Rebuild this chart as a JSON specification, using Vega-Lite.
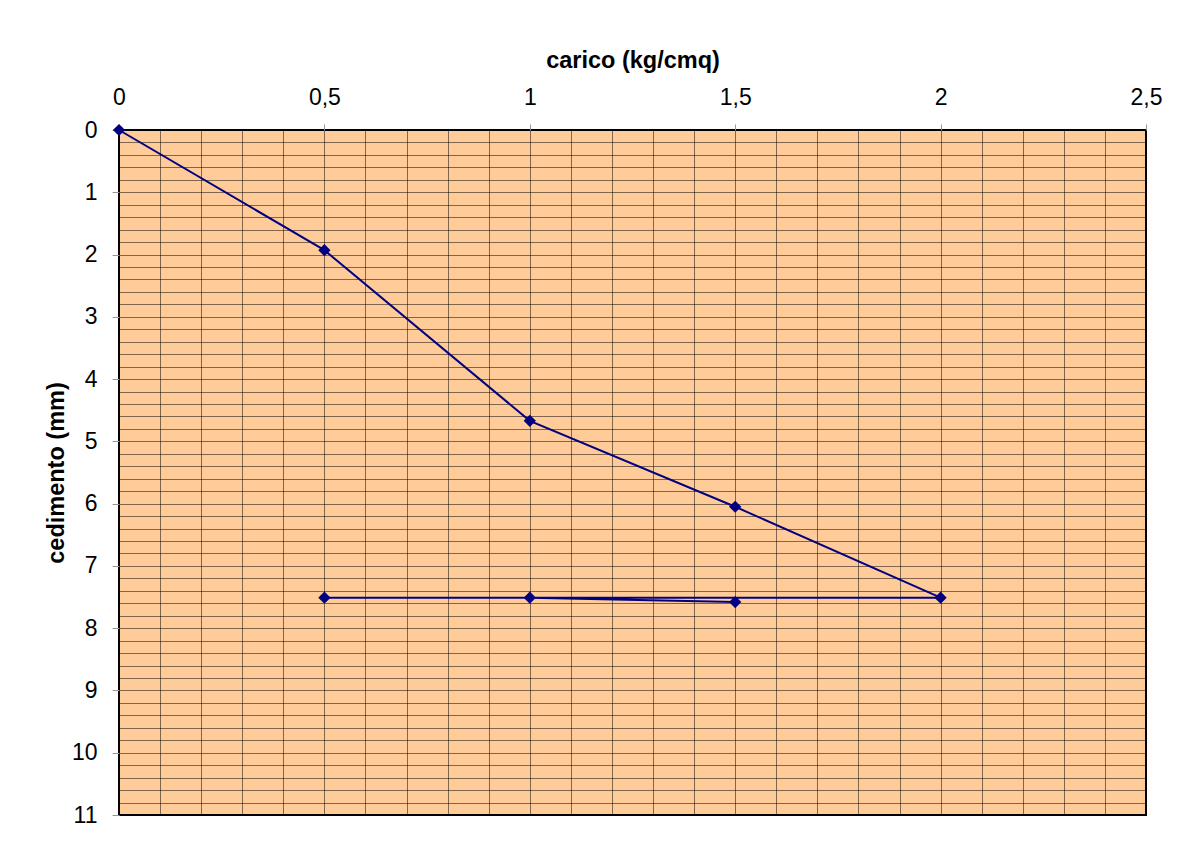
{
  "$schema": "https://vega.github.io/schema/vega-lite/v6.json",
  "width": 1027,
  "height": 685,
  "autosize": {"type": "none"},
  "padding": {"left": 119, "top": 130, "right": 39, "bottom": 40},
  "background": "white",
  "config": {
    "view": {"fill": "#FFCC99", "stroke": "#000000", "strokeWidth": 2},
    "font": "Liberation Sans"
  },
  "data": {
    "values": [
      {"ordine": 1, "carico": 0, "cedimento": 0},
      {"ordine": 2, "carico": 0.5, "cedimento": 1.93},
      {"ordine": 3, "carico": 1, "cedimento": 4.67},
      {"ordine": 4, "carico": 1.5, "cedimento": 6.05},
      {"ordine": 5, "carico": 2, "cedimento": 7.51},
      {"ordine": 6, "carico": 0.5, "cedimento": 7.51},
      {"ordine": 7, "carico": 1, "cedimento": 7.51},
      {"ordine": 8, "carico": 1.5, "cedimento": 7.58}
    ]
  },
  "layer": [
    {
      "mark": {"type": "line", "color": "#000080", "strokeWidth": 2},
      "encoding": {
        "x": {
          "field": "carico", "type": "quantitative",
          "scale": {"domain": [0, 2.5], "nice": false, "zero": false},
          "axis": {
            "orient": "top", "title": null, "labels": false, "ticks": false, "domain": false,
            "grid": true, "gridColor": "#000000", "gridOpacity": 0.5, "gridWidth": 1,
            "values": [0,0.1,0.2,0.3,0.4,0.5,0.6,0.7,0.8,0.9,1,1.1,1.2,1.3,1.4,1.5,1.6,1.7,1.8,1.9,2,2.1,2.2,2.3,2.4,2.5]
          }
        },
        "y": {
          "field": "cedimento", "type": "quantitative",
          "scale": {"domain": [0, 11], "reverse": true, "nice": false, "zero": false},
          "axis": {
            "orient": "left", "title": null, "labels": false, "ticks": false, "domain": false,
            "grid": true, "gridColor": "#000000", "gridOpacity": 0.5, "gridWidth": 1,
            "values": [0,0.2,0.4,0.6,0.8,1,1.2,1.4,1.6,1.8,2,2.2,2.4,2.6,2.8,3,3.2,3.4,3.6,3.8,4,4.2,4.4,4.6,4.8,5,5.2,5.4,5.6,5.8,6,6.2,6.4,6.6,6.8,7,7.2,7.4,7.6,7.8,8,8.2,8.4,8.6,8.8,9,9.2,9.4,9.6,9.8,10,10.2,10.4,10.6,10.8,11]
          }
        },
        "order": {"field": "ordine", "type": "quantitative"}
      }
    },
    {
      "mark": {"type": "point", "shape": "diamond", "filled": true, "color": "#000080", "size": 150, "opacity": 1},
      "encoding": {
        "x": {
          "field": "carico", "type": "quantitative",
          "scale": {"domain": [0, 2.5], "nice": false, "zero": false},
          "axis": {
            "orient": "top", "title": "carico (kg/cmq)", "grid": false, "domain": false,
            "values": [0, 0.5, 1, 1.5, 2, 2.5],
            "labelExpr": "replace(toString(datum.value), '.', ',')",
            "labelFlush": false, "labelOverlap": false,
            "ticks": true, "tickSize": 6, "tickColor": "#999999",
            "labelFontSize": 23, "labelColor": "#000000", "labelPadding": 15,
            "titleFontSize": 23.5, "titleFontWeight": "bold", "titleColor": "#000000", "titlePadding": 14
          }
        },
        "y": {
          "field": "cedimento", "type": "quantitative",
          "scale": {"domain": [0, 11], "reverse": true, "nice": false, "zero": false},
          "axis": {
            "orient": "left", "title": "cedimento (mm)", "grid": false, "domain": false,
            "values": [0,1,2,3,4,5,6,7,8,9,10,11],
            "labelFlush": false, "labelOverlap": false,
            "ticks": true, "tickSize": 7, "tickColor": "#999999",
            "labelFontSize": 23, "labelColor": "#000000", "labelPadding": 15,
            "titleFontSize": 23.5, "titleFontWeight": "bold", "titleColor": "#000000", "titlePadding": 3
          }
        }
      }
    }
  ],
  "resolve": {"axis": {"x": "independent", "y": "independent"}}
}
